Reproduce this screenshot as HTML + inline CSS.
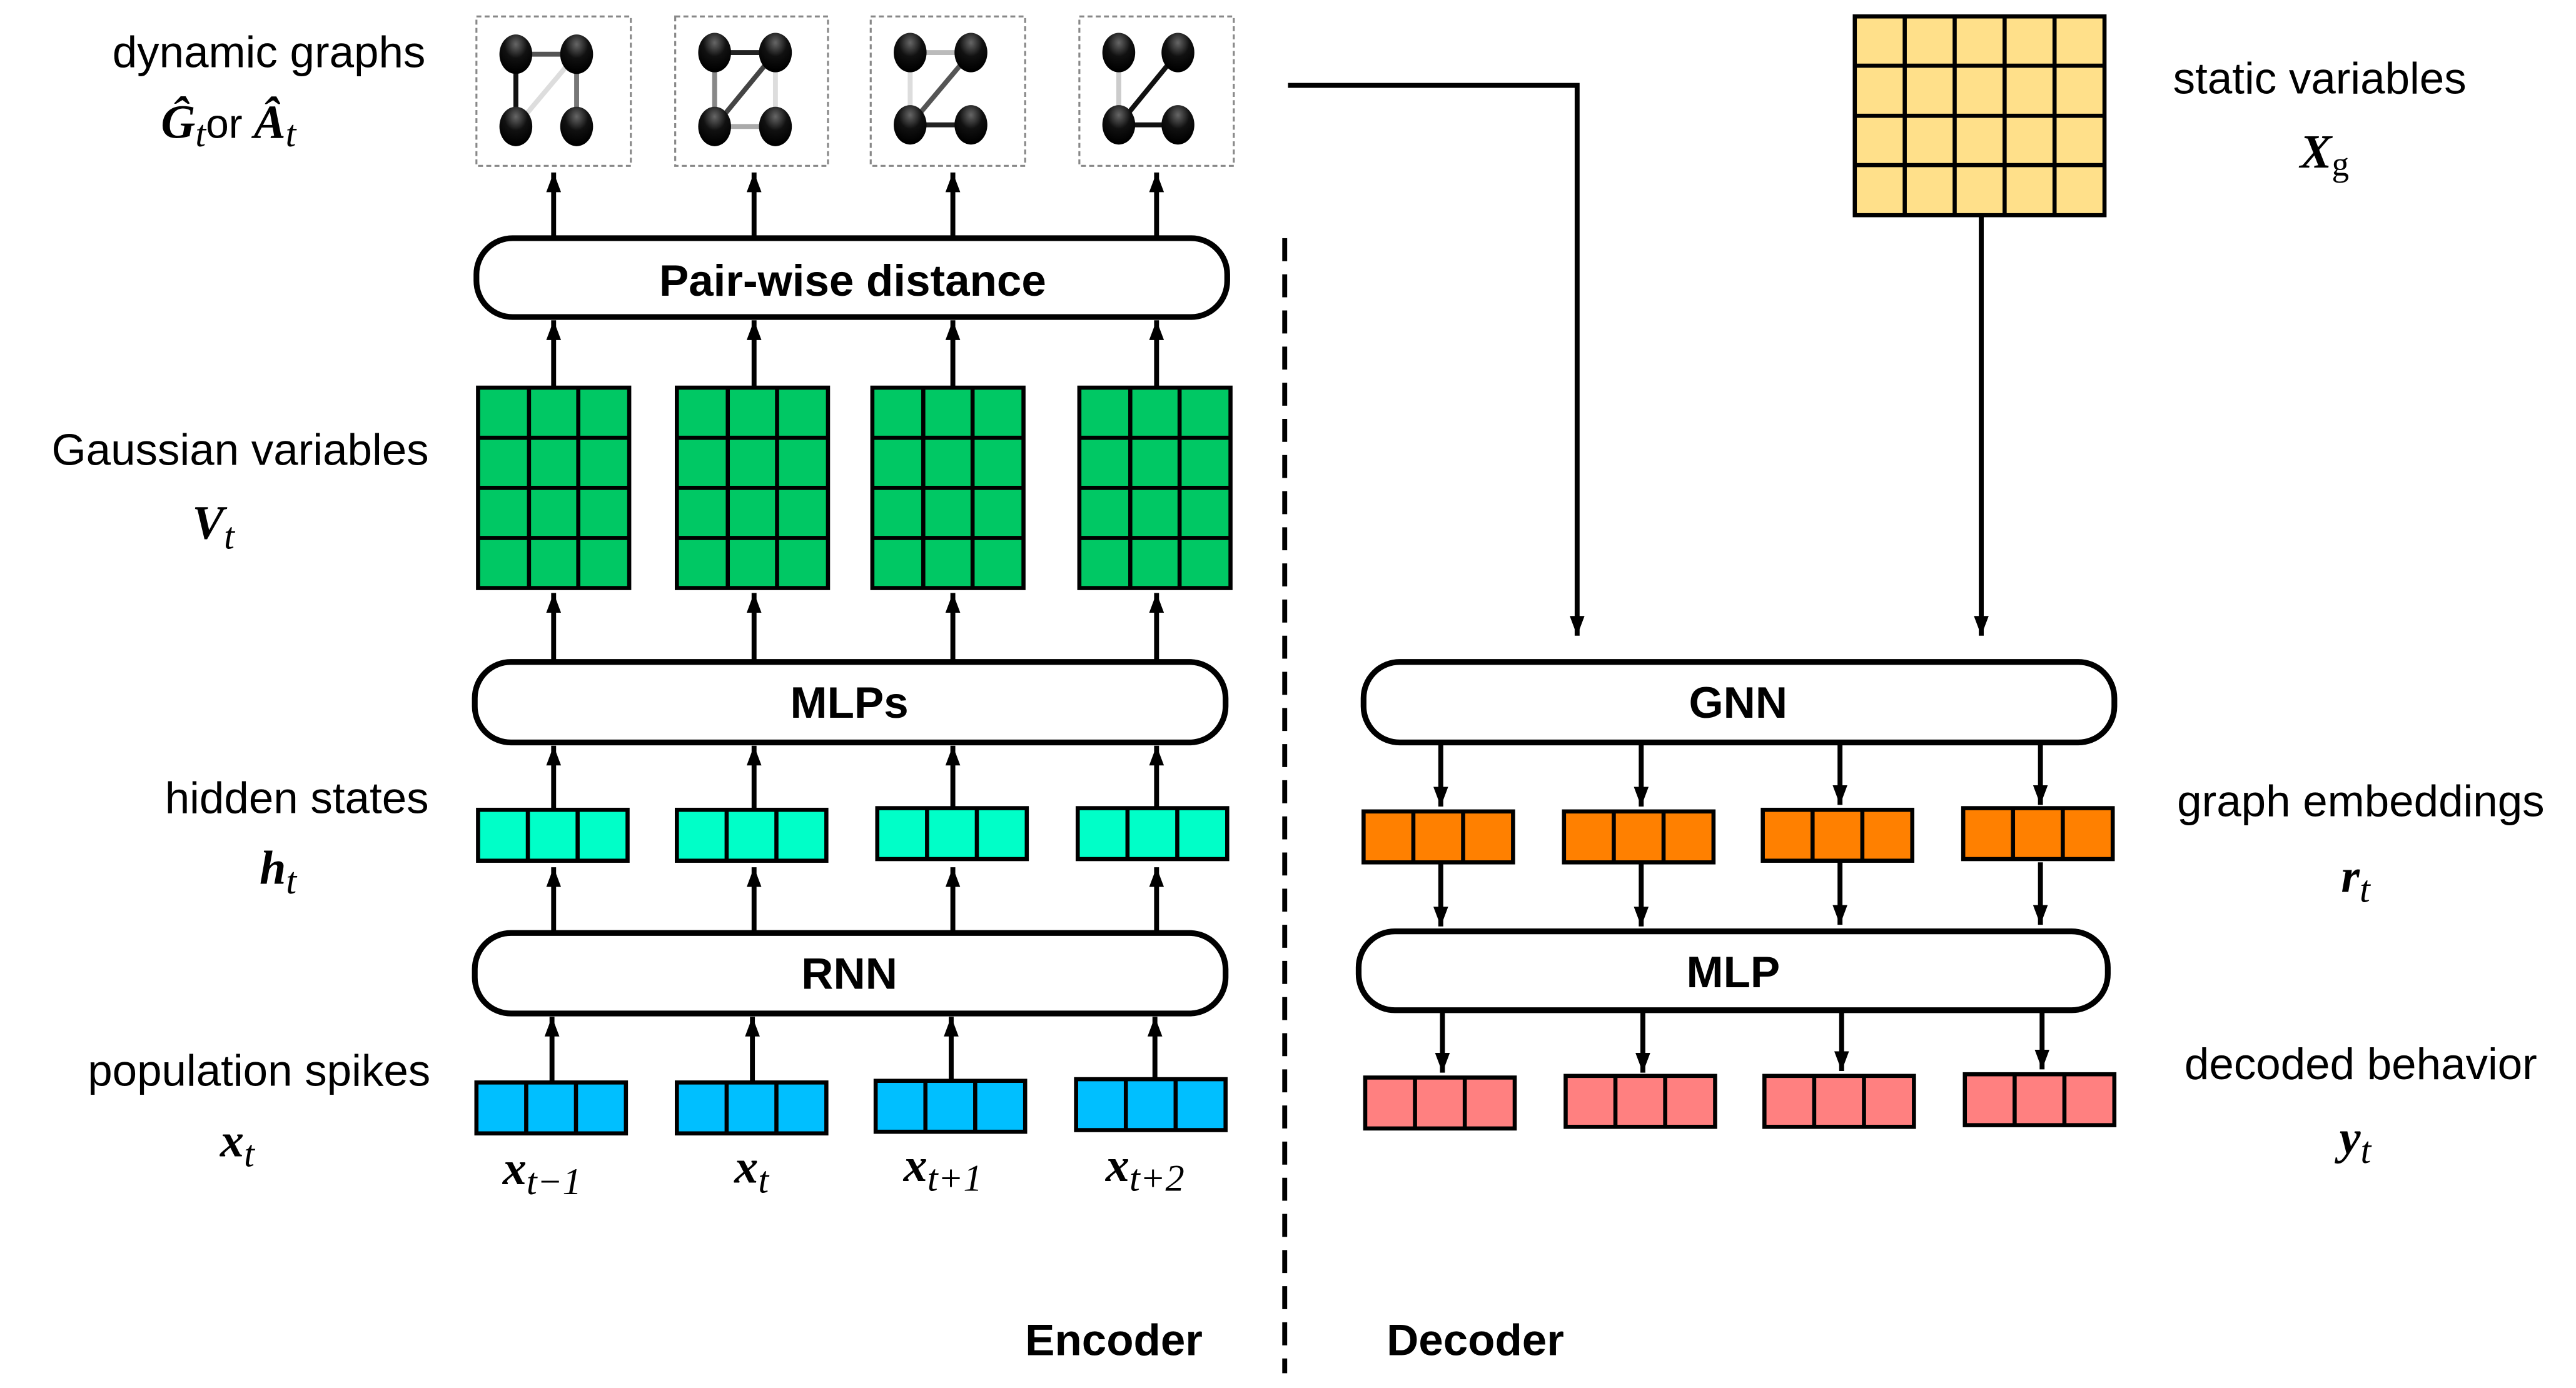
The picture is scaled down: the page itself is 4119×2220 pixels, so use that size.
<!DOCTYPE html>
<html><head><meta charset="utf-8"><style>
html,body{margin:0;padding:0;background:#fff;}
svg{display:block;}
text{font-family:"Liberation Sans",Arial,sans-serif;}
.lab{font-size:27px;fill:#000;}
.b{font-weight:bold;}
.m{font-family:"Liberation Serif",serif;font-style:italic;font-weight:bold;font-size:29px;}
.ms{font-family:"Liberation Serif",serif;font-style:italic;font-weight:normal;font-size:23px;}
</style></head><body>
<svg width="4119" height="2220" viewBox="0 0 1568 845" preserveAspectRatio="none" xmlns="http://www.w3.org/2000/svg">
<defs>
<radialGradient id="nd" cx="0.5" cy="0.25" r="0.7">
<stop offset="0" stop-color="#666"/><stop offset="0.5" stop-color="#111"/><stop offset="1" stop-color="#000"/>
</radialGradient>
<marker id="ah" viewBox="0 0 12 10" refX="12" refY="5" markerWidth="12" markerHeight="10" markerUnits="userSpaceOnUse" orient="auto">
<path d="M0,0.5 L12,5 L0,9.5 z" fill="#000"/>
</marker>
</defs>

<g fill="#fff" stroke="#888" stroke-width="1.2" stroke-dasharray="3,2">
<rect x="290" y="10" width="94" height="91"/>
<rect x="411" y="10" width="93" height="91"/>
<rect x="530" y="10" width="94" height="91"/>
<rect x="657" y="10" width="94" height="91"/>
</g>
<g stroke-width="3">
<line x1="314" y1="33" x2="351" y2="33" stroke="#555"/>
<line x1="314" y1="33" x2="314" y2="77" stroke="#111"/>
<line x1="351" y1="33" x2="351" y2="77" stroke="#777"/>
<line x1="314" y1="77" x2="351" y2="33" stroke="#ddd"/>
<line x1="435" y1="32" x2="472" y2="32" stroke="#222"/>
<line x1="435" y1="32" x2="435" y2="77" stroke="#888"/>
<line x1="472" y1="32" x2="472" y2="77" stroke="#ddd"/>
<line x1="435" y1="77" x2="472" y2="32" stroke="#444"/>
<line x1="435" y1="77" x2="472" y2="77" stroke="#aaa"/>
<line x1="554" y1="32" x2="591" y2="32" stroke="#bbb"/>
<line x1="554" y1="32" x2="554" y2="76" stroke="#ddd"/>
<line x1="554" y1="76" x2="591" y2="32" stroke="#555"/>
<line x1="554" y1="76" x2="591" y2="76" stroke="#222"/>
<line x1="681" y1="32" x2="681" y2="76" stroke="#ccc"/>
<line x1="681" y1="76" x2="717" y2="32" stroke="#111"/>
<line x1="681" y1="76" x2="717" y2="76" stroke="#111"/>
</g>
<g fill="url(#nd)">
<ellipse cx="314" cy="33" rx="10" ry="12"/><ellipse cx="351" cy="33" rx="10" ry="12"/>
<ellipse cx="314" cy="77" rx="10" ry="12"/><ellipse cx="351" cy="77" rx="10" ry="12"/>
<ellipse cx="435" cy="32" rx="10" ry="12"/><ellipse cx="472" cy="32" rx="10" ry="12"/>
<ellipse cx="435" cy="77" rx="10" ry="12"/><ellipse cx="472" cy="77" rx="10" ry="12"/>
<ellipse cx="554" cy="32" rx="10" ry="12"/><ellipse cx="591" cy="32" rx="10" ry="12"/>
<ellipse cx="554" cy="76" rx="10" ry="12"/><ellipse cx="591" cy="76" rx="10" ry="12"/>
<ellipse cx="681" cy="32" rx="10" ry="12"/><ellipse cx="717" cy="32" rx="10" ry="12"/>
<ellipse cx="681" cy="76" rx="10" ry="12"/><ellipse cx="717" cy="76" rx="10" ry="12"/>
</g>

<g fill="#fff" stroke="#000" stroke-width="3.5">
<rect x="290" y="145" width="457" height="48" rx="22"/>
<rect x="289" y="403" width="457" height="49" rx="22"/>
<rect x="289" y="568" width="457" height="49" rx="22"/>
<rect x="830" y="403" width="457" height="49" rx="22"/>
<rect x="827" y="567" width="456" height="48" rx="22"/>
</g>
<g class="b" font-size="27" text-anchor="middle">
<text x="519" y="180">Pair-wise distance</text>
<text x="517" y="437">MLPs</text>
<text x="517" y="602">RNN</text>
<text x="1058" y="437">GNN</text>
<text x="1055" y="601">MLP</text>
</g>

<g stroke="#000" stroke-width="3" marker-end="url(#ah)">
<line x1="337" y1="145" x2="337" y2="105"/><line x1="459" y1="145" x2="459" y2="105"/>
<line x1="580" y1="145" x2="580" y2="105"/><line x1="704" y1="145" x2="704" y2="105"/>
<line x1="337" y1="236" x2="337" y2="195"/><line x1="459" y1="236" x2="459" y2="195"/>
<line x1="580" y1="236" x2="580" y2="195"/><line x1="704" y1="236" x2="704" y2="195"/>
<line x1="337" y1="403" x2="337" y2="361"/><line x1="459" y1="403" x2="459" y2="361"/>
<line x1="580" y1="403" x2="580" y2="361"/><line x1="704" y1="403" x2="704" y2="361"/>
<line x1="337" y1="493" x2="337" y2="454"/><line x1="459" y1="493" x2="459" y2="454"/>
<line x1="580" y1="493" x2="580" y2="454"/><line x1="704" y1="493" x2="704" y2="454"/>
<line x1="337" y1="568" x2="337" y2="528"/><line x1="459" y1="568" x2="459" y2="528"/>
<line x1="580" y1="568" x2="580" y2="528"/><line x1="704" y1="568" x2="704" y2="528"/>
<line x1="336" y1="659" x2="336" y2="619"/><line x1="458" y1="659" x2="458" y2="619"/>
<line x1="579" y1="659" x2="579" y2="619"/><line x1="703" y1="659" x2="703" y2="619"/>
<line x1="877" y1="452" x2="877" y2="491"/><line x1="999" y1="452" x2="999" y2="491"/>
<line x1="1120" y1="452" x2="1120" y2="490"/><line x1="1242" y1="452" x2="1242" y2="490"/>
<line x1="877" y1="525" x2="877" y2="564"/><line x1="999" y1="525" x2="999" y2="564"/>
<line x1="1120" y1="525" x2="1120" y2="563"/><line x1="1242" y1="525" x2="1242" y2="563"/>
<line x1="878" y1="615" x2="878" y2="653"/><line x1="1000" y1="615" x2="1000" y2="653"/>
<line x1="1121" y1="615" x2="1121" y2="652"/><line x1="1243" y1="615" x2="1243" y2="651"/>
<polyline points="784,52 960,52 960,387" fill="none"/>
<line x1="1206" y1="131" x2="1206" y2="387"/>
</g>

<g fill="#00C864" stroke="#000" stroke-width="2.5">
<g id="gg"><rect x="291" y="236" width="92" height="122"/>
<path d="M322,236V358M352,236V358M291,266.5H383M291,297H383M291,327.5H383" fill="none"/></g>
<use href="#gg" x="121"/><use href="#gg" x="240"/><use href="#gg" x="366"/>
</g>
<g fill="#00FFC8" stroke="#000" stroke-width="2.5">
<g id="tt"><rect x="291" y="493" width="91" height="31"/><path d="M321.3,493V524M351.6,493V524" fill="none"/></g>
<use href="#tt" x="121"/><use href="#tt" x="243" y="-1"/><use href="#tt" x="365" y="-1"/>
</g>
<g fill="#00BFFF" stroke="#000" stroke-width="2.5">
<g id="bb"><rect x="290" y="659" width="91" height="31"/><path d="M320.3,659V690M350.6,659V690" fill="none"/></g>
<use href="#bb" x="122"/><use href="#bb" x="243" y="-1"/><use href="#bb" x="365" y="-2"/>
</g>
<g fill="#FF8000" stroke="#000" stroke-width="2.5">
<g id="oo"><rect x="830" y="494" width="91" height="31"/><path d="M860.3,494V525M890.6,494V525" fill="none"/></g>
<use href="#oo" x="122"/><use href="#oo" x="243" y="-1"/><use href="#oo" x="365" y="-2"/>
</g>
<g fill="#FF8080" stroke="#000" stroke-width="2.5">
<g id="pp"><rect x="831" y="656" width="91" height="31"/><path d="M861.3,656V687M891.6,656V687" fill="none"/></g>
<use href="#pp" x="122" y="-1"/><use href="#pp" x="243" y="-1"/><use href="#pp" x="365" y="-2"/>
</g>
<g fill="#FFE08A" stroke="#000" stroke-width="2.5">
<rect x="1129" y="10" width="152" height="121"/>
<path d="M1159.4,10V131M1189.8,10V131M1220.2,10V131M1250.6,10V131M1129,40H1281M1129,70.5H1281M1129,100.5H1281" fill="none"/>
</g>

<line x1="782" y1="145" x2="782" y2="836" stroke="#000" stroke-width="3" stroke-dasharray="14,8"/>

<g class="lab" text-anchor="end">
<text x="259" y="41">dynamic graphs</text>
<text x="261" y="283">Gaussian variables</text>
<text x="261" y="495">hidden states</text>
<text x="262" y="661">population spikes</text>
</g>
<text x="98" y="84" class="m" font-weight="normal">Ĝ<tspan class="ms" dy="5">t</tspan><tspan dy="-5" font-family="Liberation Sans" font-style="normal" font-weight="normal" font-size="25">or </tspan>Â<tspan class="ms" dy="5">t</tspan></text>
<text x="117" y="328" class="m">V<tspan class="ms" dy="6">t</tspan></text>
<text x="158" y="538" class="m">h<tspan class="ms" dy="6">t</tspan></text>
<text x="134" y="704" class="m">x<tspan class="ms" dy="6">t</tspan></text>
<text x="306" y="721" class="m">x<tspan class="ms" dy="6">t−1</tspan></text>
<text x="447" y="720" class="m">x<tspan class="ms" dy="6">t</tspan></text>
<text x="550" y="719" class="m">x<tspan class="ms" dy="6">t+1</tspan></text>
<text x="673" y="719" class="m">x<tspan class="ms" dy="6">t+2</tspan></text>

<g class="lab" text-anchor="middle">
<text x="1412" y="57">static variables</text>
<text x="1437" y="497">graph embeddings</text>
<text x="1437" y="657">decoded behavior</text>
</g>
<text x="1400" y="102" class="m">X<tspan font-family="Liberation Serif" font-style="normal" font-weight="normal" font-size="21" dy="5">g</tspan></text>
<text x="1425" y="543" class="m">r<tspan class="ms" dy="6">t</tspan></text>
<text x="1424" y="702" class="m">y<tspan class="ms" dy="6">t</tspan></text>

<text x="678" y="825" class="b" font-size="27" text-anchor="middle">Encoder</text>
<text x="898" y="825" class="b" font-size="27" text-anchor="middle">Decoder</text>
</svg>
</body></html>
